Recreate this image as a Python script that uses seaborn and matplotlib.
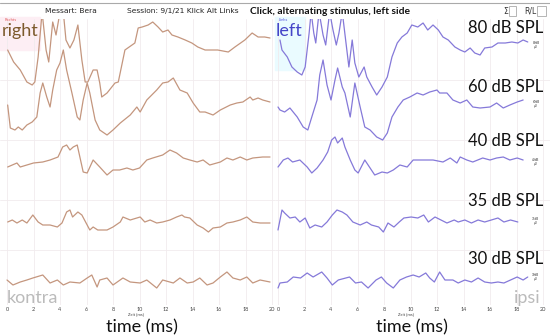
import pandas as pd
import seaborn as sns
import matplotlib.pyplot as plt
from matplotlib.patches import Rectangle

# ABR traces, time in ms, amplitude given as screen position (px from top)
levels = ['80 dB SPL', '60 dB SPL', '40 dB SPL', '35 dB SPL', '30 dB SPL']
level_y = [28, 87, 141, 201, 259]
amp_y = [45, 104, 162, 221, 277]
tick_ms = list(range(0, 21, 2))

# right ear (kontra) traces
t_r80 = [0.05, 0.5, 1.0, 1.5, 1.9, 2.1, 2.35, 2.65, 2.95, 3.15, 3.45, 3.7, 4.0, 4.25, 4.45,
         4.75, 5.05, 5.35, 5.65, 5.9, 6.1, 6.5, 6.8, 7.0, 7.15, 7.55, 8.15, 8.4, 8.9, 9.65,
         9.9, 10.2, 10.65, 11.0, 11.4, 11.75, 12.15, 12.45, 12.9, 13.45, 13.95, 14.4, 14.95,
         15.45, 15.9, 16.7, 17.2, 17.95, 18.5, 18.95, 19.45, 19.85]
y_r80 = [50, 62, 70, 82, 85, 82, 57, 12, 50, 62, 22, 35, 12, 12, 40,
         48, 40, 25, 60, 82, 82, 70, 70, 83, 97, 93, 83, 82, 50, 43,
         28, 27, 25, 22, 27, 32, 30, 35, 37, 40, 43, 47, 50,
         50, 50, 52, 47, 40, 33, 37, 37, 38]

t_r60 = [0.05, 0.25, 0.6, 0.85, 1.15, 1.5, 1.9, 2.25, 2.5, 2.7, 3.0, 3.25, 3.45, 3.75, 4.0,
         4.25, 4.5, 4.9, 5.3, 5.5, 5.75, 6.05, 6.25, 6.65, 7.0, 7.55, 8.0, 8.55, 9.3, 9.8,
         10.05, 10.55, 11.3, 11.75, 12.15, 12.55, 13.05, 13.6, 14.05, 14.55, 14.95, 15.55,
         16.1, 16.85, 17.35, 17.8, 18.35, 18.55, 18.95, 19.3, 19.85]
y_r60 = [105, 128, 130, 127, 130, 125, 122, 117, 93, 83, 97, 107, 90, 70, 63,
         50, 70, 93, 117, 120, 100, 83, 93, 120, 130, 135, 130, 123, 115, 107,
         112, 100, 90, 83, 82, 78, 90, 93, 103, 112, 112, 115,
         110, 105, 103, 102, 97, 100, 98, 100, 102]

t_r40 = [0.05, 0.75, 1.0, 1.5, 2.0, 2.7, 3.25, 3.85, 4.2, 4.5, 4.75, 5.0, 5.3, 5.5, 5.75,
         6.05, 6.5, 7.0, 7.55, 8.0, 8.5, 9.05, 9.5, 10.0, 10.55, 11.0, 11.75, 12.3, 12.8,
         13.3, 13.8, 14.35, 14.8, 15.3, 16.1, 16.6, 17.05, 17.6, 18.1, 18.55, 19.3, 19.85]
y_r40 = [167, 163, 167, 165, 163, 162, 160, 157, 147, 145, 150, 147, 145, 157, 172,
         173, 160, 167, 175, 170, 170, 168, 170, 168, 160, 158, 155, 150, 153,
         158, 160, 162, 160, 165, 162, 158, 160, 157, 160, 158, 157, 157]

t_r35 = [0.05, 0.4, 0.75, 1.15, 1.5, 1.95, 2.35, 2.7, 3.25, 3.8, 4.15, 4.5, 4.75, 4.95, 5.35,
         5.65, 6.05, 6.25, 6.5, 6.85, 7.55, 8.0, 8.55, 8.75, 9.3, 9.8, 10.05, 10.4, 10.8,
         11.3, 11.75, 12.3, 12.8, 13.2, 13.4, 13.8, 14.35, 14.8, 15.2, 15.55, 16.1, 16.6,
         17.05, 17.6, 18.1, 18.55, 19.1, 19.85]
y_r35 = [222, 220, 223, 220, 223, 215, 222, 225, 225, 227, 223, 212, 210, 217, 212,
         215, 225, 230, 227, 230, 230, 227, 222, 217, 220, 218, 217, 222, 220,
         223, 222, 220, 217, 215, 217, 218, 225, 228, 232, 228, 227, 223,
         222, 220, 217, 222, 223, 223]

t_r30 = [0.0, 0.45, 1.0, 1.5, 1.95, 2.7, 3.25, 3.8, 4.25, 4.75, 5.5, 6.05, 6.4, 6.8, 7.0,
         7.55, 8.0, 8.75, 9.3, 10.05, 10.55, 11.3, 11.75, 12.55, 13.05, 13.6, 14.05, 14.55,
         15.1, 15.55, 16.1, 16.6, 17.05, 17.6, 18.1, 18.55, 19.1, 19.85]
y_r30 = [280, 285, 282, 280, 278, 275, 283, 280, 285, 282, 283, 278, 275, 287, 280,
         278, 285, 278, 282, 283, 280, 288, 280, 283, 278, 283, 282, 278,
         285, 283, 277, 272, 278, 280, 277, 283, 280, 282]

# left ear (ipsi) traces
t_l80 = [0.15, 0.3, 0.7, 1.05, 1.45, 1.8, 2.05, 2.35, 2.5, 2.7, 2.85, 3.1, 3.4, 3.6, 3.9,
         4.15, 4.4, 4.6, 4.85, 5.15, 5.35, 5.6, 5.8, 6.1, 6.5, 6.7, 7.1, 7.45, 7.85, 8.25,
         8.6, 9.0, 9.35, 9.75, 10.1, 10.55, 10.95, 11.3, 11.7, 12.1, 12.45, 12.85, 13.35,
         13.75, 14.1, 14.5, 14.85, 15.25, 15.6, 16.15, 16.6, 17.15, 17.65, 18.1, 18.5, 18.85]
y_l80 = [40, 50, 57, 67, 72, 75, 67, 33, 12, 33, 43, 12, 35, 45, 12,
         30, 45, 33, 12, 45, 67, 40, 63, 77, 67, 77, 87, 95, 87, 77,
         57, 43, 37, 33, 25, 27, 23, 30, 25, 30, 37, 40, 47,
         50, 52, 48, 53, 55, 48, 47, 43, 43, 42, 43, 40, 42]

t_l60 = [0.0, 0.15, 0.5, 0.9, 1.45, 1.9, 2.25, 2.55, 2.95, 3.15, 3.4, 3.7, 4.0, 4.3, 4.5,
         4.85, 5.05, 5.45, 5.8, 6.2, 6.55, 6.95, 7.45, 7.9, 8.25, 8.6, 9.05, 9.45, 9.95,
         10.5, 10.95, 11.45, 12.0, 12.2, 12.75, 13.2, 13.75, 14.25, 14.7, 15.25, 16.0,
         16.5, 17.0, 17.5, 18.05, 18.5]
y_l60 = [107, 110, 112, 108, 117, 127, 130, 117, 100, 75, 60, 85, 100, 80, 68,
         87, 93, 117, 83, 107, 127, 130, 137, 140, 133, 117, 107, 100, 97,
         93, 95, 92, 90, 93, 93, 100, 103, 100, 107, 108, 107,
         103, 108, 105, 102, 100]

t_l40 = [0.0, 0.4, 0.75, 1.1, 1.65, 2.2, 2.55, 2.95, 3.4, 3.75, 4.05, 4.3, 4.5, 4.85, 5.05,
         5.45, 5.8, 6.05, 6.55, 6.95, 7.3, 7.85, 8.25, 8.7, 9.2, 9.75, 10.2, 10.95, 11.7,
         12.45, 13.0, 13.5, 13.75, 14.25, 14.7, 15.45, 16.0, 16.5, 17.0, 17.5, 18.05, 18.5]
y_l40 = [167, 160, 158, 162, 160, 167, 173, 168, 160, 152, 140, 137, 143, 138, 147,
         160, 170, 173, 160, 168, 175, 172, 173, 170, 165, 167, 160, 160, 160,
         162, 158, 163, 157, 160, 162, 158, 160, 158, 157, 160, 158, 160]

t_l35 = [0.0, 0.3, 0.5, 0.9, 1.3, 1.65, 2.05, 2.4, 2.8, 3.3, 3.7, 4.1, 4.45, 4.85, 5.2,
         5.65, 6.2, 6.7, 7.05, 7.6, 7.95, 8.3, 8.75, 9.15, 9.5, 10.05, 10.55, 11.0, 11.35,
         11.85, 12.3, 12.75, 13.3, 13.6, 14.1, 14.6, 15.1, 15.6, 16.1, 16.6, 17.05, 17.55, 18.1]
y_l35 = [230, 210, 213, 218, 217, 222, 218, 228, 225, 227, 222, 215, 210, 212, 215,
         222, 225, 222, 225, 227, 232, 223, 227, 222, 218, 217, 218, 215, 222,
         217, 220, 223, 220, 222, 220, 223, 220, 222, 220, 218, 222, 220, 222]

t_l30 = [0.0, 0.15, 0.7, 1.15, 1.7, 2.2, 2.65, 3.3, 3.7, 4.1, 4.55, 5.4, 5.85, 6.3, 6.8,
         7.4, 7.8, 8.2, 8.7, 9.2, 9.7, 10.2, 10.65, 11.15, 11.45, 11.8, 12.2, 12.6, 13.2,
         13.6, 14.1, 14.6, 15.1, 15.6, 16.1, 16.6, 17.05, 17.55, 18.05, 18.5, 18.85]
y_l30 = [288, 283, 282, 277, 278, 273, 277, 272, 278, 285, 280, 277, 283, 282, 288,
         280, 277, 283, 288, 280, 277, 275, 277, 273, 278, 282, 272, 280, 280,
         283, 280, 282, 278, 282, 283, 282, 283, 280, 277, 280, 277]

right_traces = [(t_r80, y_r80), (t_r60, y_r60), (t_r40, y_r40), (t_r35, y_r35), (t_r30, y_r30)]
left_traces = [(t_l80, y_l80), (t_l60, y_l60), (t_l40, y_l40), (t_l35, y_l35), (t_l30, y_l30)]

sns.set_style('white')
plt.rcParams['font.family'] = ['Lato', 'DejaVu Sans']

W, H = 550, 336
fig = plt.figure(figsize=(5.5, 3.36), dpi=100)


def fig_txt(x, y, s, **kw):
    fig.text(x / W, 1 - y / H, s, **kw)


def make_axes(x0, x1, ms0_px):
    ax = fig.add_axes([x0 / W, 1 - 305 / H, (x1 - x0) / W, (305 - 19) / H])
    ax.set_facecolor('none')
    ax.set_xlim((x0 - ms0_px) / 13.25, (x1 - ms0_px) / 13.25)
    ax.set_ylim(305, 19)
    ax.set_xticks(tick_ms)
    ax.set_xticklabels([str(t) for t in tick_ms])
    ax.set_yticks([80, 140, 200, 250])
    ax.set_yticklabels([])
    ax.tick_params(axis='both', length=0, labelsize=4, pad=1.5, colors='#444444')
    ax.grid(True, color='#f1ebee', lw=0.6)
    sns.despine(ax=ax, left=True, bottom=True)
    return ax


# faint label boxes
fig.add_artist(Rectangle((0, 1 - 50 / H), 40 / W, 33 / H, transform=fig.transFigure,
                         color='#fdeef4', zorder=0))
fig.add_artist(Rectangle((275 / W, 1 - 70 / H), 30 / W, 53 / H, transform=fig.transFigure,
                         color='#eafbff', zorder=0))

ax_r = make_axes(0, 275, 7)
ax_l = make_axes(275, 550, 278)

for t, y in right_traces:
    df = pd.DataFrame({'t': t, 'y': y})
    sns.lineplot(data=df, x='t', y='y', ax=ax_r, color='#c4967e', lw=0.9,
                 sort=False, estimator=None)
for t, y in left_traces:
    df = pd.DataFrame({'t': t, 'y': y})
    sns.lineplot(data=df, x='t', y='y', ax=ax_l, color='#8579d9', lw=0.9,
                 sort=False, estimator=None)
for ax in (ax_r, ax_l):
    ax.set_xlabel('')
    ax.set_ylabel('')

# header
fig.add_artist(plt.Line2D([0, 1], [1 - 3 / H, 1 - 3 / H], transform=fig.transFigure,
                          color='#aaaaaa', lw=0.8))
fig_txt(45, 11, 'Messart: Bera', fontsize=5.4, va='center', color='#222222', family='DejaVu Sans')
fig_txt(127, 11, 'Session: 9/1/21 Klick Alt Links', fontsize=5.4, va='center',
        color='#222222', family='DejaVu Sans')
fig_txt(250, 11, 'Click, alternating stimulus, left side', fontsize=7.4, va='center',
        weight='bold', color='#111111')
fig_txt(503, 11, 'Σ', fontsize=5.5, va='center', color='#333333', family='DejaVu Sans')
fig.add_artist(Rectangle((509 / W, 1 - 16 / H), 7 / W, 10 / H, transform=fig.transFigure,
                         fill=False, ec='#aaaaaa', lw=0.6))
fig_txt(524, 11, 'R/L', fontsize=5.5, va='center', color='#333333', family='DejaVu Sans')
fig.add_artist(Rectangle((537 / W, 1 - 16 / H), 9 / W, 10 / H, transform=fig.transFigure,
                         fill=False, ec='#aaaaaa', lw=0.6))

# side labels
fig_txt(5, 20, 'Rechts', fontsize=3, va='center', color='#e05a5a')
fig_txt(2, 31, 'right', fontsize=13, va='center', color='#7d5a2c')
fig_txt(279, 20, 'Links', fontsize=3, va='center', color='#5a5ae0')
fig_txt(276, 31, 'left', fontsize=13, va='center', color='#4545c8')
fig_txt(7, 298, 'kontra', fontsize=13, va='center', color='#bbbbbb')
fig_txt(541, 298, 'ipsi', fontsize=13, va='center', ha='right', color='#bbbbbb')

for lab, ly, ay in zip(levels, level_y, amp_y):
    fig_txt(543, ly, lab, fontsize=12, va='center', ha='right', color='#111111')
    fig_txt(536, ay, lab.split(' ')[0] + 'dB\nµV', fontsize=2.2, va='center',
            ha='center', color='#333333', linespacing=1.1)

# axis titles
for cx in (142, 412):
    fig_txt(cx - 6, 314, 'Zeit [ms]', fontsize=3, va='center', ha='center', color='#444444')
    fig_txt(cx, 327, 'time (ms)', fontsize=13, va='center', ha='center', color='#111111')

fig.savefig('out.png', dpi=100)
